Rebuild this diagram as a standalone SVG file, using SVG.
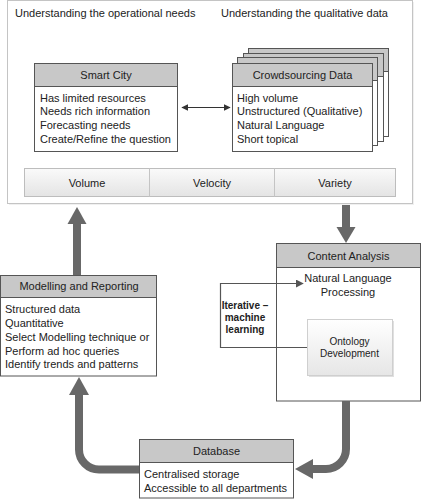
<svg xmlns="http://www.w3.org/2000/svg" width="422" height="500" viewBox="0 0 422 500">
<defs>
<linearGradient id="bar" x1="0" y1="0" x2="0" y2="1"><stop offset="0" stop-color="#fafafa"/><stop offset="1" stop-color="#e4e4e4"/></linearGradient>
<linearGradient id="onto" x1="0" y1="0" x2="0" y2="1"><stop offset="0" stop-color="#ffffff"/><stop offset="1" stop-color="#e6e6e6"/></linearGradient>
<marker id="sa" viewBox="0 0 10 10" refX="9" refY="5" markerWidth="7" markerHeight="7" orient="auto-start-reverse" markerUnits="userSpaceOnUse"><path d="M0,0 L10,5 L0,10 z" fill="#333"/></marker>
<marker id="la" viewBox="0 0 10 10" refX="9" refY="5" markerWidth="8" markerHeight="8" orient="auto" markerUnits="userSpaceOnUse"><path d="M0,0 L10,5 L0,10 z" fill="#555"/></marker>
</defs>
<style>
text{font-family:"Liberation Sans",Arial,sans-serif;font-size:11px;fill:#222}
.c{text-anchor:middle}
.b{font-weight:bold;font-size:10px}
.s{font-size:10px}
.hd{fill:#c8c8c8;stroke:#555;stroke-width:1}
.bd{fill:#fff;stroke:#555;stroke-width:1}
.big{fill:none;stroke:#686868;stroke-width:8}
.head{fill:#686868}
</style>
<rect width="422" height="500" fill="#fff"/>
<g id="frame">
<rect x="9" y="2" width="405" height="203" fill="#f0f0f0" stroke="none"/>
<rect x="7.5" y="0.5" width="405" height="203" fill="#fff" stroke="#c4c4c4"/>
<text x="15" y="16.5">Understanding the operational needs</text>
<text x="221" y="16.5">Understanding the qualitative data</text>
</g>
<g id="smart-city">
<rect class="bd" x="34.5" y="63.5" width="143" height="88"/>
<rect class="hd" x="34.5" y="63.5" width="143" height="23"/>
<text class="c" x="106" y="79">Smart City</text>
<text x="40" y="101.7">Has limited resources</text>
<text x="40" y="115.4">Needs rich information</text>
<text x="40" y="129">Forecasting needs</text>
<text x="40" y="142.7">Create/Refine the question</text>
</g>
<g id="crowdsourcing">
<rect class="bd" x="248.5" y="48.5" width="140" height="88"/>
<rect class="hd" x="248.5" y="48.5" width="140" height="23"/>
<rect class="bd" x="243.5" y="53.5" width="140" height="88"/>
<rect class="hd" x="243.5" y="53.5" width="140" height="23"/>
<rect class="bd" x="237.5" y="57.5" width="140" height="88"/>
<rect class="hd" x="237.5" y="57.5" width="140" height="23"/>
<rect class="bd" x="232.5" y="63.5" width="140" height="88"/>
<rect class="hd" x="232.5" y="63.5" width="140" height="23"/>
<text class="c" x="302.5" y="79">Crowdsourcing Data</text>
<text x="237" y="101.7">High volume</text>
<text x="237" y="115.4">Unstructured (Qualitative)</text>
<text x="237" y="129">Natural Language</text>
<text x="237" y="142.7">Short topical</text>
</g>
<g id="vvv">
<rect x="24.5" y="168.5" width="371" height="28" fill="url(#bar)" stroke="#bdbdbd"/>
<line x1="149.5" y1="168.5" x2="149.5" y2="196.5" stroke="#c4c4c4"/>
<line x1="274.5" y1="168.5" x2="274.5" y2="196.5" stroke="#c4c4c4"/>
<text class="c" x="87" y="186.5">Volume</text>
<text class="c" x="212" y="186.5">Velocity</text>
<text class="c" x="335" y="186.5">Variety</text>
</g>
<g id="content-analysis">
<rect class="bd" x="276.5" y="243.5" width="144" height="157.5"/>
<rect class="hd" x="276.5" y="243.5" width="144" height="24"/>
<text class="c" x="348.5" y="259.5">Content Analysis</text>
<text class="c" x="348" y="282">Natural Language</text>
<text class="c" x="348" y="296">Processing</text>
</g>
<g id="ontology">
<rect x="309" y="321" width="85" height="56" fill="#e0e0e0"/>
<rect x="307.5" y="319.5" width="85" height="56" fill="url(#onto)" stroke="#cfcfcf"/>
<text class="c s" x="349.5" y="344.5">Ontology</text>
<text class="c s" x="349.5" y="356.5">Development</text>
</g>
<g id="iterative-label">
<text class="c b" x="245" y="308.5">Iterative –</text>
<text class="c b" x="245" y="320.5">machine</text>
<text class="c b" x="245" y="332.5">learning</text>
</g>
<g id="modelling">
<rect class="bd" x="0.5" y="275.5" width="156" height="100.5"/>
<rect class="hd" x="0.5" y="275.5" width="156" height="22"/>
<text class="c" x="79" y="290">Modelling and Reporting</text>
<text x="5" y="313">Structured data</text>
<text x="5" y="327">Quantitative</text>
<text x="5" y="340.5">Select Modelling technique or</text>
<text x="5" y="354.5">Perform ad hoc queries</text>
<text x="5" y="368">Identify trends and patterns</text>
</g>
<g id="database">
<rect class="bd" x="139.5" y="439.5" width="154" height="58.5"/>
<rect class="hd" x="139.5" y="439.5" width="154" height="23"/>
<text class="c" x="216.5" y="454.5">Database</text>
<text x="144" y="478">Centralised storage</text>
<text x="144" y="491.5">Accessible to all departments</text>
</g>
<g id="connectors">
<line x1="182" y1="107.5" x2="230" y2="107.5" stroke="#333" stroke-width="1.2" marker-start="url(#sa)" marker-end="url(#sa)"/>
<polyline points="307,347.5 220.5,347.5 220.5,283.5 303,283.5" fill="none" stroke="#555" stroke-width="1.2" marker-end="url(#la)"/>
<line class="big" x1="77" y1="275" x2="77" y2="222"/>
<polygon class="head" points="67.5,224 77,207 86.5,224"/>
<line class="big" x1="346" y1="205" x2="346" y2="229"/>
<polygon class="head" points="336.5,227 346,243 355.5,227"/>
<path class="big" d="M139,469.5 H99 A20,20 0 0 1 79,449.5 V392"/>
<polygon class="head" points="69,395 79,377 89,395"/>
<path class="big" d="M346,401 V449 A20,20 0 0 1 326,469 H310"/>
<polygon class="head" points="313,459 295,469 313,479"/>
</g>
</svg>
